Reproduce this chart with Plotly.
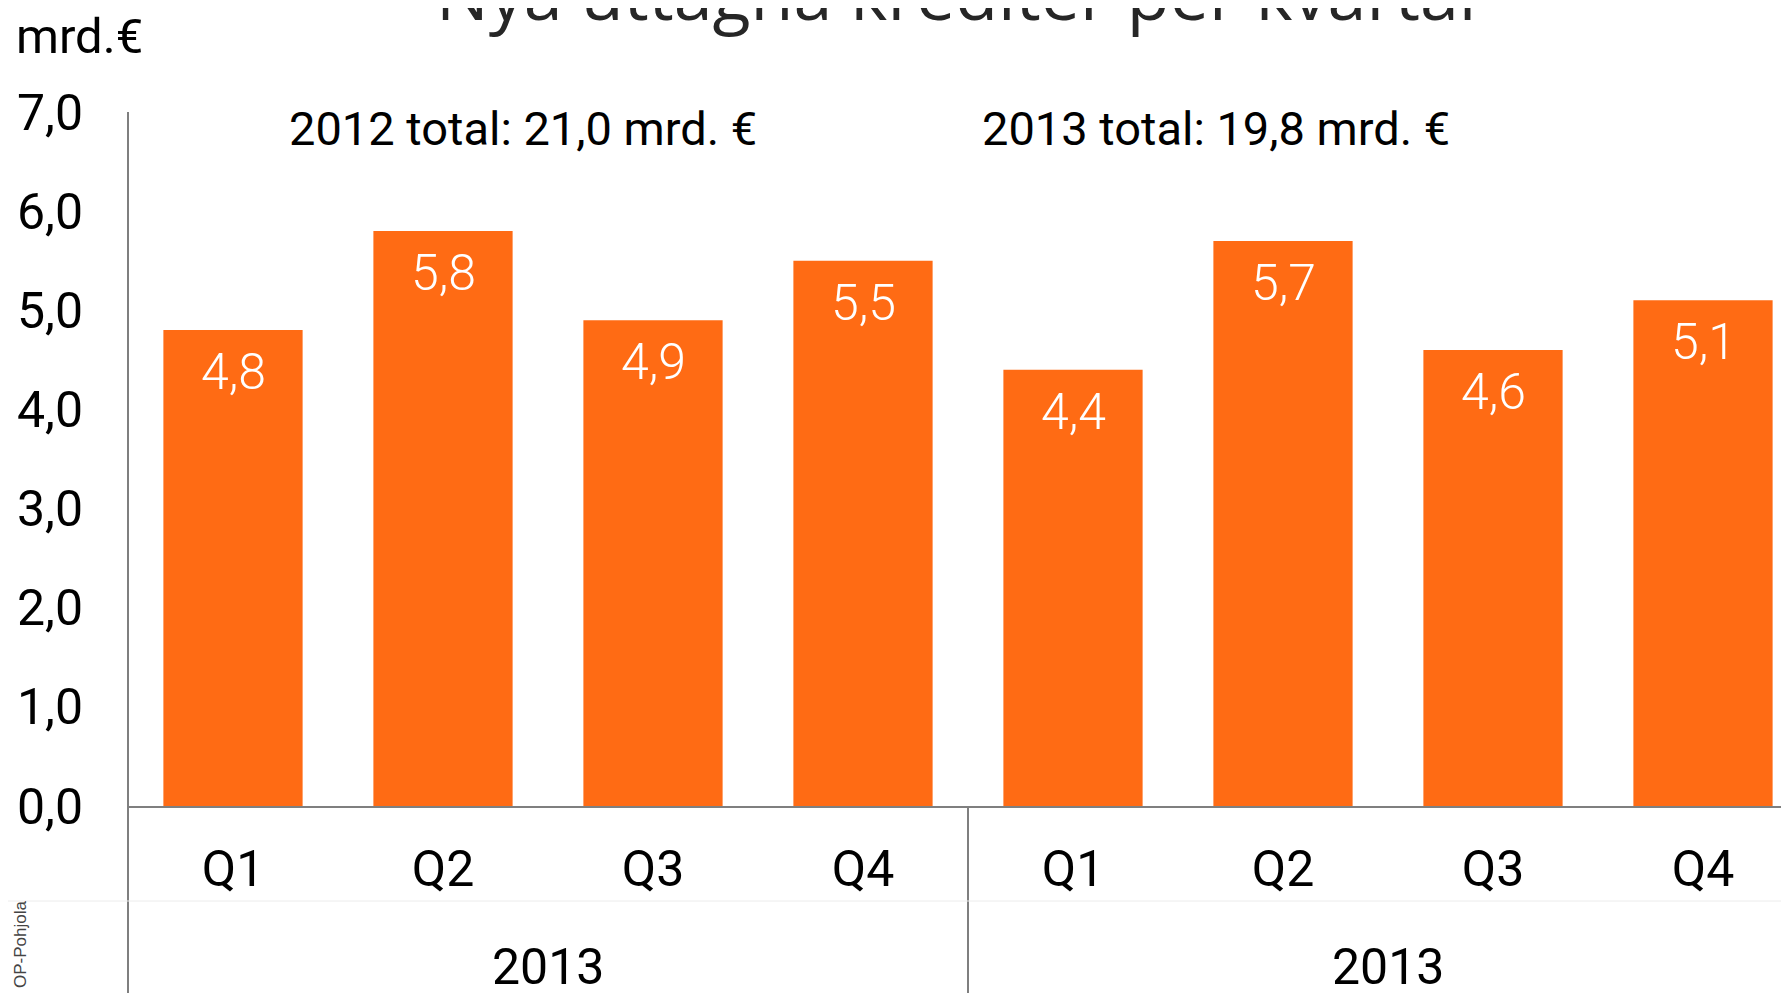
import plotly.graph_objects as go

# data
quarters = ["Q1", "Q2", "Q3", "Q4", "Q1", "Q2", "Q3", "Q4"]
values = [4.8, 5.8, 4.9, 5.5, 4.4, 5.7, 4.6, 5.1]
year_labels = ["2013", "2013"]
totals = ["2012 total: 21,0 mrd. €", "2013 total: 19,8 mrd. €"]
y_ticks = [0, 1, 2, 3, 4, 5, 6, 7]

# the page body has an 8px margin, so the figure is drawn 8px in
OFF = 8
W, H = 1789 - OFF, 993 - OFF
ORANGE = "#FF6B14"
AXIS = "#7f7f7f"
FONT = "Roboto, Arial, sans-serif"

# plot area in figure pixels
left, top, base = 128 - OFF, 112 - OFF, 806 - OFF
plot_h = base - top


def py(p):
    # screen pixel y -> paper y
    return (base - (p - OFF)) / plot_h


def px(p):
    return ((p - OFF) - left) / (W - left)


xs = list(range(len(values)))

fig = go.Figure(go.Bar(
    x=xs, y=values,
    marker=dict(color=ORANGE, line=dict(width=0)),
    width=0.663,
    hoverinfo="skip",
))

# value labels inside the bars
for x, v in zip(xs, values):
    fig.add_annotation(x=x, y=v, text=f"{v:.1f}".replace(".", ","),
                       showarrow=False, yanchor="middle", yshift=-42,
                       font=dict(family=FONT, size=50, color="white", weight=300))

# year group labels, centred under each group of four
for i, lab in enumerate(year_labels):
    fig.add_annotation(x=1.5 + 4 * i, y=py(967), yref="paper", text=lab,
                       showarrow=False, yanchor="middle",
                       font=dict(family=FONT, size=50, color="black"))

# totals above the bars
for i, t in enumerate(totals):
    fig.add_annotation(x=1.38 + 3.3 * i, y=py(129), yref="paper", text=t,
                       showarrow=False, yanchor="middle",
                       font=dict(family=FONT, size=47, color="black"))

# unit label
fig.add_annotation(x=px(14), y=py(36), xref="paper", yref="paper", text="mrd.€",
                   showarrow=False, xanchor="left", yanchor="middle",
                   font=dict(family=FONT, size=49, color="black"))

# title (cut at top edge)
fig.add_annotation(x=px(956), y=py(-7), xref="paper", yref="paper",
                   text="Nya uttagna krediter per kvartal",
                   showarrow=False, xanchor="center", yanchor="middle",
                   font=dict(family="Open Sans, sans-serif", size=70, color="#262626"))

# small rotated source text at the left edge
fig.add_annotation(x=px(20), y=py(945), xref="paper", yref="paper",
                   text="OP-Pohjola", textangle=-90, showarrow=False,
                   xanchor="center", yanchor="middle",
                   font=dict(family="Arial, Liberation Sans, sans-serif", size=17, color="#444444"))

# y axis line extending down into the category area
fig.add_shape(type="line", xref="paper", yref="paper", x0=0, x1=0,
              y0=1, y1=py(1000), line=dict(color=AXIS, width=2))
# separator between the two years
fig.add_shape(type="line", xref="x", yref="paper", x0=3.5, x1=3.5,
              y0=0, y1=py(1000), line=dict(color=AXIS, width=2))
# faint line under the quarter labels
fig.add_shape(type="line", xref="paper", yref="paper", x0=px(0), x1=1,
              y0=py(901), y1=py(901), line=dict(color="#ececec", width=1))

fig.update_layout(
    width=W, height=H,
    margin=dict(l=left, r=0, t=top, b=H - base, pad=0),
    paper_bgcolor="white", plot_bgcolor="white",
    showlegend=False,
    separators=", ",
    font=dict(family=FONT, size=50, color="black"),
    xaxis=dict(
        range=[-0.5, -0.5 + (1789 - 128) / 210.0],
        tickmode="array", tickvals=xs, ticktext=quarters,
        showline=True, linecolor=AXIS, linewidth=2,
        showgrid=False, zeroline=False, ticks="",
        ticklabelstandoff=18,
        tickfont=dict(family=FONT, size=50, color="black"),
        fixedrange=True,
    ),
    yaxis=dict(
        range=[0, 7],
        tickmode="array", tickvals=y_ticks, tickformat=".1f",
        showline=False, showgrid=False, zeroline=False, ticks="",
        ticklabelstandoff=44,
        tickfont=dict(family=FONT, size=50, color="black"),
        fixedrange=True,
    ),
)

fig.write_html("out.html")
